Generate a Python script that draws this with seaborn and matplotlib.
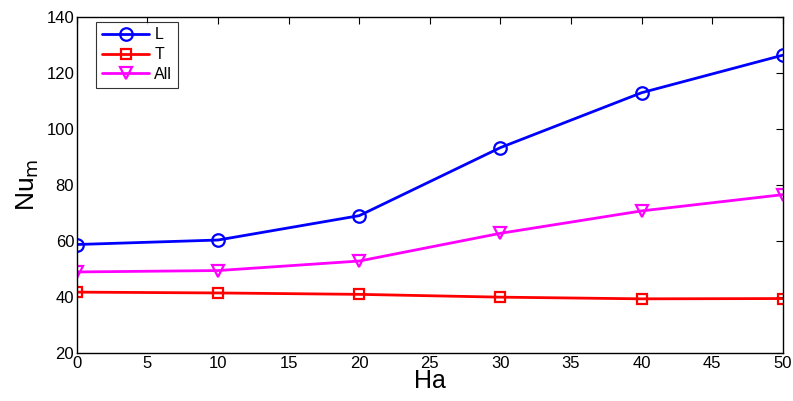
import matplotlib
matplotlib.use("Agg")
import matplotlib.pyplot as plt
import seaborn as sns
import pandas as pd

ha = [0, 10, 20, 30, 40, 50]
nu_L = [58.7, 60.3, 69.0, 93.3, 112.9, 126.3]
nu_T = [41.7, 41.4, 40.9, 39.9, 39.3, 39.4]
nu_all = [48.9, 49.4, 52.8, 62.7, 70.7, 76.5]

series = [
    ("L", nu_L, "#0000ff", "o", 9),
    ("T", nu_T, "#ff0000", "s", 7),
    ("All", nu_all, "#ff00ff", "v", 9),
]

sns.set_style("white")
plt.rcParams["font.family"] = ["Liberation Sans", "DejaVu Sans"]
plt.rcParams["text.color"] = "black"
plt.rcParams["axes.labelcolor"] = "black"
plt.rcParams["xtick.color"] = "black"
plt.rcParams["ytick.color"] = "black"

fig = plt.figure(figsize=(7.93, 4.01), dpi=100)
ax = fig.add_axes([0.097, 0.12, 0.89, 0.838])

for name, vals, color, marker, ms in series:
    df = pd.DataFrame({"Ha": ha, "Nu": vals})
    sns.lineplot(data=df, x="Ha", y="Nu", ax=ax, color=color, marker=marker,
                 markersize=ms, markerfacecolor="none", markeredgecolor=color,
                 markeredgewidth=1.6, linewidth=2, label=name)

ax.set_xlim(0, 50)
ax.set_ylim(20, 140)
ax.set_xticks(range(0, 51, 5))
ax.set_yticks(range(20, 141, 20))
ax.tick_params(direction="in", top=True, right=True, length=5, width=0.8,
               labelsize=12, colors="black", pad=2)
for sp in ax.spines.values():
    sp.set_visible(True)
    sp.set_color("black")
    sp.set_linewidth(1)

ax.set_xlabel("Ha", fontsize=18, labelpad=-1)
ax.set_ylabel("Nu$_{\\mathrm{m}}$", fontsize=19, labelpad=4)

leg = ax.legend(loc="upper left", bbox_to_anchor=(0.027, 0.985), frameon=True,
                fancybox=False, edgecolor="black", fontsize=11.5, handlelength=3,
                borderpad=0.35, labelspacing=0.3, handletextpad=0.3,
                borderaxespad=0)
leg.get_frame().set_linewidth(0.8)

fig.savefig("out.png", dpi=100)
